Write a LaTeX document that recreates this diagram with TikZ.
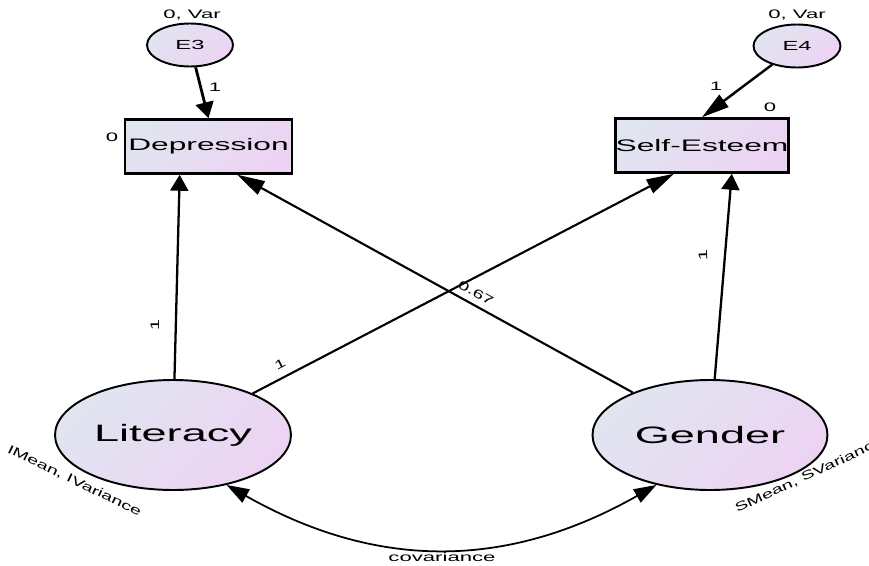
\documentclass[tikz,border=0pt]{standalone}
\usepackage{fontspec}
\setmainfont{Liberation Sans}
\newfontfamily\amosbig[FakeStretch=1.9]{Liberation Sans}
\newfontfamily\amoslab[FakeStretch=1.8]{Liberation Sans}
\newfontfamily\amosrot[FakeStretch=1.6]{Liberation Sans}
\usetikzlibrary{arrows.meta,shapes.geometric,calc}
\definecolor{amosA}{RGB}{224,229,240}
\definecolor{amosB}{RGB}{237,211,243}

\begin{document}
\begin{tikzpicture}[x=0.02cm,y=-0.02cm,
    latent/.style={ellipse,draw,line width=1.1pt,top color=amosA,bottom color=amosB,shading angle=45,inner sep=0pt},
    observed/.style={rectangle,draw,line width=1.4pt,top color=amosA,bottom color=amosB,shading angle=45,inner sep=0pt,minimum height=1.08cm,font=\amosbig\fontsize{9.5}{11}\selectfont},
    regr/.style={-{Triangle[length=0.32cm,width=0.36cm]},line width=1.3pt},
    slant/.style={-{Triangle[length=0.55cm,width=0.3cm]},line width=1.2pt},
    lab/.style={font=\amoslab\fontsize{7}{8}\selectfont,inner sep=0pt},
    rlab/.style={font=\amosrot\fontsize{7}{8}\selectfont,inner sep=0pt}]
    \useasboundingbox (0,0) rectangle (869,565);
    % error terms and observed variables
    \node[latent,minimum width=1.72cm,minimum height=0.86cm,font=\amoslab\fontsize{7.5}{9}\selectfont] (e3) at (190,45) {E3};
    \node[lab] (e3var) at (192,15) {0, Var};
    \node[observed,minimum width=3.34cm] (dep) at (208.5,146.5) {Depression};
    \node[lab] (depmean) at (112,137) {0};
    \node[latent,minimum width=1.74cm,minimum height=0.86cm,font=\amoslab\fontsize{7.5}{9}\selectfont] (e4) at (797,46) {E4};
    \node[lab] (e4var) at (797,15) {0, Var};
    \node[observed,minimum width=3.32cm] (se) at (702,145.5) {Self-Esteem};
    \node[lab] (semean) at (770,107) {0};
    % latent predictors
    \node[latent,minimum width=4.72cm,minimum height=2.2cm,font=\amosbig\fontsize{13.5}{16}\selectfont] (lit) at (173,435) {Literacy};
    \node[latent,minimum width=4.70cm,minimum height=2.2cm,font=\amosbig\fontsize{13.5}{16}\selectfont] (gen) at (710,435) {Gender};
    \node[rlab,rotate=-26] (litvar) at (74.5,481) {IMean, IVariance};
    \node[rlab,rotate=25,anchor=base west] (genvar) at (737,513) {SMean, SVariance};
    % arrow ends on the boxes
    \coordinate (depL) at ($(dep.south west)!0.33!(dep.south east)$);
    \coordinate (depR) at ($(dep.south west)!0.67!(dep.south east)$);
    \coordinate (seL) at ($(se.south west)!0.34!(se.south east)$);
    \coordinate (seR) at ($(se.south west)!0.67!(se.south east)$);
    % paths
    \draw[regr,line width=1.6pt] (e3) -- (dep.north);
    \draw[slant,line width=1.4pt] (e4) -- (se.north);
    \draw[regr] (lit) -- (depL);
    \draw[slant] (gen) -- (depR);
    \draw[slant] (lit) -- (seL);
    \draw[regr] (gen) -- (seR);
    \draw[{Triangle[length=0.45cm,width=0.3cm]}-{Triangle[length=0.45cm,width=0.3cm]},line width=1pt] (lit.-43) .. controls +(150,85) and +(-150,85) .. (gen.-137);
    % weights
    \node[lab] (w1) at (215,87) {1};
    \node[lab] (w2) at (716,86) {1};
    \node[rlab,rotate=90] (w3) at (155,325) {1};
    \node[rlab,rotate=27.5] (w4) at (280,364) {1};
    \node[rlab,rotate=-29] (w5) at (476,293) {0.67};
    \node[rlab,rotate=92] (w6) at (703,255) {1};
    \node[lab] (cov) at (442,557) {covariance};
\end{tikzpicture}
\end{document}
